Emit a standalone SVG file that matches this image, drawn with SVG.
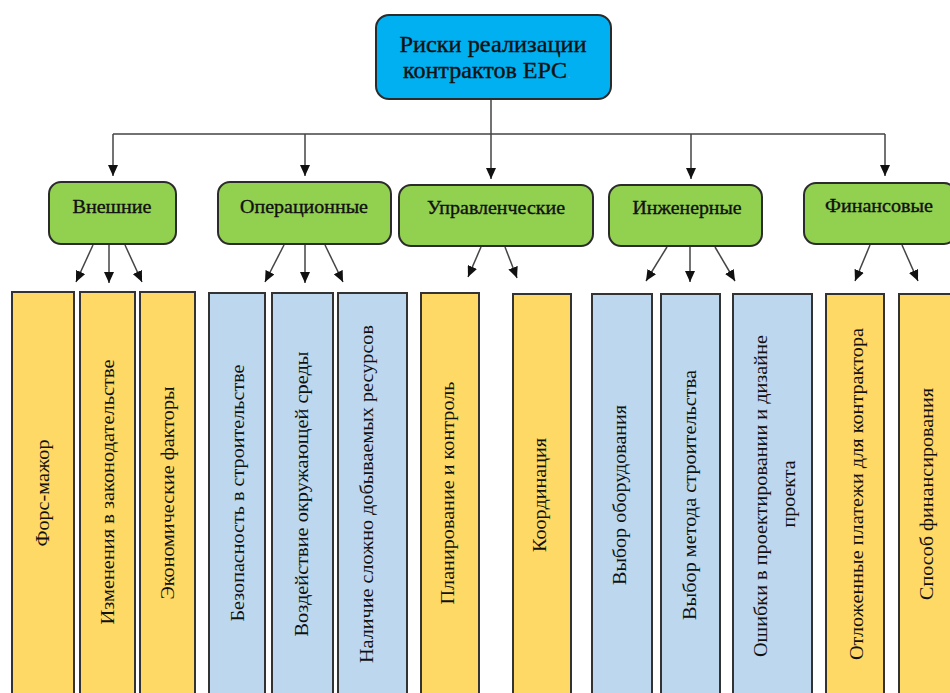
<svg xmlns="http://www.w3.org/2000/svg" width="950" height="693" viewBox="0 0 950 693">
<defs>
<marker id="ah" markerUnits="userSpaceOnUse" markerWidth="11" markerHeight="10" refX="11" refY="5" orient="auto">
<path d="M0,0 L11,5 L0,10 z" fill="#111"/>
</marker>
<style>
.root{fill:#00B0F0;stroke:#2b2b2b;stroke-width:2}
.cat{fill:#92D050;stroke:#2b2b2b;stroke-width:2}
.y{fill:#FFD966;stroke:#333;stroke-width:2}
.b{fill:#BDD7EE;stroke:#333;stroke-width:2}
.t{font-family:"Liberation Serif","Times New Roman",serif;fill:#111}
.rt{font-size:24px;text-anchor:middle;stroke:#111;stroke-width:0.4}
.ct{font-size:18px;text-anchor:middle;stroke:#111;stroke-width:0.35}
.vt{font-size:18.5px;text-anchor:middle}
.ln{fill:none;stroke:#444;stroke-width:1.5}
.ar{fill:none;stroke:#444;stroke-width:1.5;marker-end:url(#ah)}
</style>
</defs>
<rect width="950" height="693" fill="#fff"/>

<g id="connectors">
<path class="ln" d="M491,99 V134 M113,134 H885"/>
<path class="ar" d="M113,134 V176"/>
<path class="ar" d="M305,134 V176"/>
<path class="ar" d="M491,134 V179"/>
<path class="ar" d="M691,134 V179"/>
<path class="ar" d="M885,134 V176"/>

<path class="ar" d="M93,245 L76,282"/>
<path class="ar" d="M109,245 V283"/>
<path class="ar" d="M125,245 L142,282"/>

<path class="ar" d="M284,245 L265,282"/>
<path class="ar" d="M305,245 V283"/>
<path class="ar" d="M325,245 L343,282"/>

<path class="ar" d="M481,247 L468,277"/>
<path class="ar" d="M505,247 L517,278"/>

<path class="ar" d="M667,247 L646,281"/>
<path class="ar" d="M690,247 V282"/>
<path class="ar" d="M715,247 L735,281"/>

<path class="ar" d="M870,245 L855,281"/>
<path class="ar" d="M902,245 L918,281"/>
</g>

<g id="root">
<rect class="root" x="376" y="15" width="235" height="84" rx="13"/>
<text class="t rt" x="493" y="52" textLength="187" lengthAdjust="spacingAndGlyphs">Риски реализации</text>
<text class="t rt" x="403" y="78" style="text-anchor:start"><tspan textLength="164" lengthAdjust="spacingAndGlyphs">контрактов EPC</tspan><tspan fill="#999" stroke="none" font-size="12">.</tspan></text>
</g>

<g id="cat-vneshnie">
<rect class="cat" x="49" y="182" width="127" height="62" rx="12"/>
<text class="t ct" x="112" y="213" textLength="79" lengthAdjust="spacingAndGlyphs">Внешние</text>
</g>
<g id="cat-operacionnye">
<rect class="cat" x="218" y="182" width="173" height="62" rx="12"/>
<text class="t ct" x="304" y="213" textLength="128" lengthAdjust="spacingAndGlyphs">Операционные</text>
</g>
<g id="cat-upravl">
<rect class="cat" x="399" y="185" width="194" height="61" rx="12"/>
<text class="t ct" x="496" y="214" textLength="138" lengthAdjust="spacingAndGlyphs">Управленческие</text>
</g>
<g id="cat-inzh">
<rect class="cat" x="609" y="185" width="153" height="61" rx="12"/>
<text class="t ct" x="687" y="214" textLength="109" lengthAdjust="spacingAndGlyphs">Инженерные</text>
</g>
<g id="cat-fin">
<rect class="cat" x="804" y="183" width="152" height="61" rx="12"/>
<text class="t ct" x="879" y="212" textLength="108" lengthAdjust="spacingAndGlyphs">Финансовые</text>
</g>

<g id="bar1"><rect class="y" x="12" y="292" width="62" height="410"/>
<text class="t vt" transform="translate(49,493) rotate(-90)" textLength="107" lengthAdjust="spacingAndGlyphs">Форс-мажор</text></g>
<g id="bar2"><rect class="y" x="80" y="292" width="55" height="410"/>
<text class="t vt" transform="translate(114,492) rotate(-90)" textLength="265" lengthAdjust="spacingAndGlyphs">Изменения в законодательстве</text></g>
<g id="bar3"><rect class="y" x="140" y="292" width="55" height="410"/>
<text class="t vt" transform="translate(174,493) rotate(-90)" textLength="213" lengthAdjust="spacingAndGlyphs">Экономические факторы</text></g>

<g id="bar4"><rect class="b" x="209" y="293" width="56" height="410"/>
<text class="t vt" transform="translate(244,493) rotate(-90)" textLength="257" lengthAdjust="spacingAndGlyphs">Безопасность в строительстве</text></g>
<g id="bar5"><rect class="b" x="272" y="293" width="61" height="410"/>
<text class="t vt" transform="translate(308,494) rotate(-90)" textLength="285" lengthAdjust="spacingAndGlyphs">Воздействие окружающей среды</text></g>
<g id="bar6"><rect class="b" x="338" y="293" width="69" height="410"/>
<text class="t vt" transform="translate(373,494) rotate(-90)" textLength="338" lengthAdjust="spacingAndGlyphs">Наличие сложно добываемых ресурсов</text></g>

<g id="bar7"><rect class="y" x="421" y="293" width="58" height="410"/>
<text class="t vt" transform="translate(454,493) rotate(-90)" textLength="223" lengthAdjust="spacingAndGlyphs">Планирование и контроль</text></g>
<g id="bar8"><rect class="y" x="513" y="294" width="58" height="410"/>
<text class="t vt" transform="translate(546,495) rotate(-90)" textLength="114" lengthAdjust="spacingAndGlyphs">Координация</text></g>

<g id="bar9"><rect class="b" x="592" y="294" width="60" height="410"/>
<text class="t vt" transform="translate(626,495) rotate(-90)" textLength="180" lengthAdjust="spacingAndGlyphs">Выбор оборудования</text></g>
<g id="bar10"><rect class="b" x="661" y="294" width="59" height="410"/>
<text class="t vt" transform="translate(696,495) rotate(-90)" textLength="250" lengthAdjust="spacingAndGlyphs">Выбор метода строительства</text></g>
<g id="bar11"><rect class="b" x="733" y="294" width="79" height="410"/>
<text class="t vt" transform="translate(767,496) rotate(-90)" textLength="322" lengthAdjust="spacingAndGlyphs">Ошибки в проектировании и дизайне</text>
<text class="t vt" transform="translate(795,494) rotate(-90)" textLength="67" lengthAdjust="spacingAndGlyphs">проекта</text></g>

<g id="bar12"><rect class="y" x="826" y="294" width="58" height="410"/>
<text class="t vt" transform="translate(863,494) rotate(-90)" textLength="332" lengthAdjust="spacingAndGlyphs">Отложенные платежи для контрактора</text></g>
<g id="bar13"><rect class="y" x="899" y="294" width="70" height="410"/>
<text class="t vt" transform="translate(933,494) rotate(-90)" textLength="212" lengthAdjust="spacingAndGlyphs">Способ финансирования</text></g>
</svg>
